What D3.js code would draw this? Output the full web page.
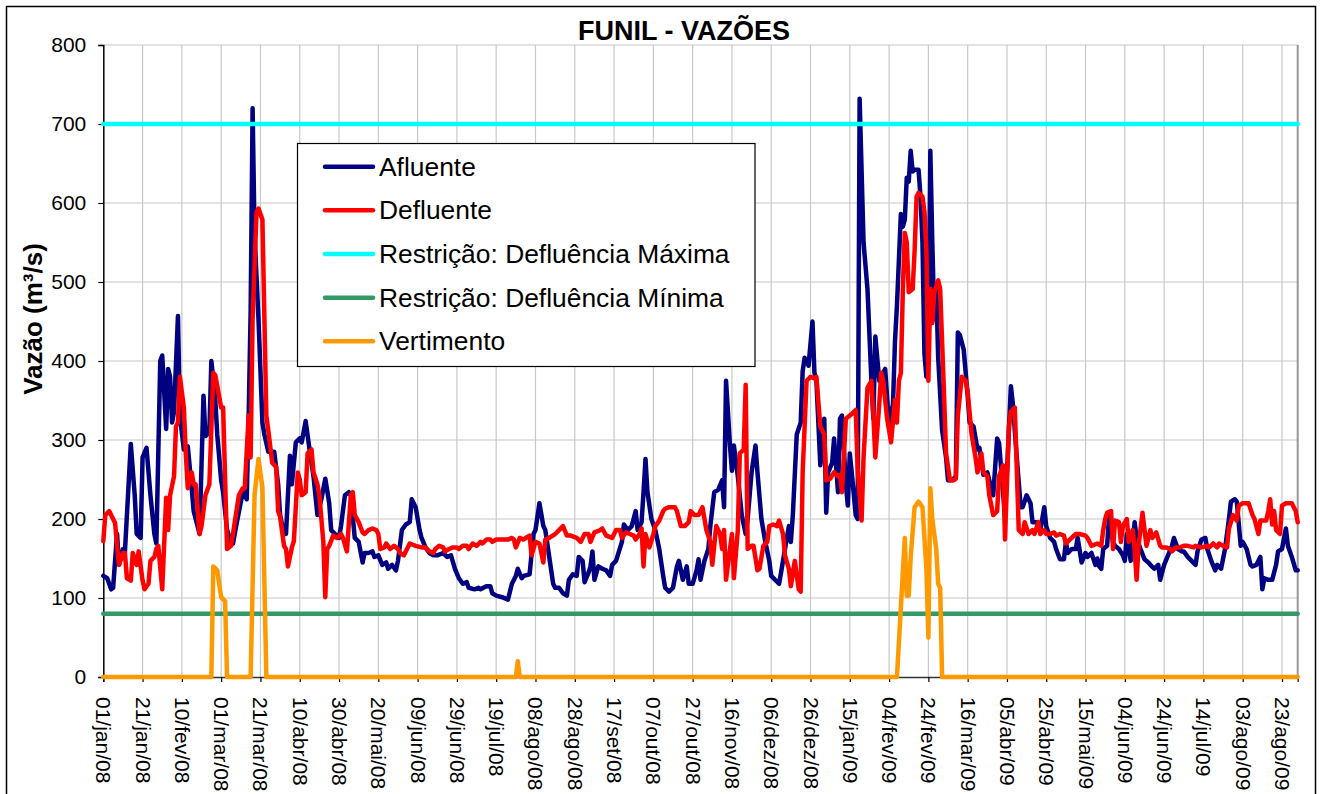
<!DOCTYPE html>
<html>
<head>
<meta charset="utf-8">
<script src="https://cdn.jsdelivr.net/npm/d3@7/dist/d3.min.js"></script>
<style>
html,body{margin:0;padding:0;background:#fff;}
svg{display:block;font-family:"Liberation Sans",Arial,sans-serif;}
</style>
</head>
<body>
<svg id="chart" width="1320" height="794"></svg>
<script>
// ---- data (day index from 01/jan/08, value m3/s) ----
const title = "FUNIL - VAZÕES";
const yLabel = "Vazão (m³/s)";
const nDays = 609; // 01/jan/08 .. 31/ago/09
const tickLabels = ["01/jan/08","21/jan/08","10/fev/08","01/mar/08","21/mar/08","10/abr/08","30/abr/08","20/mai/08","09/jun/08","29/jun/08","19/jul/08","08/ago/08","28/ago/08","17/set/08","07/out/08","27/out/08","16/nov/08","06/dez/08","26/dez/08","15/jan/09","04/fev/09","24/fev/09","16/mar/09","05/abr/09","25/abr/09","15/mai/09","04/jun/09","24/jun/09","14/jul/09","03/ago/09","23/ago/09"];
const tickStep = 20;
const yTicks = [0,100,200,300,400,500,600,700,800];
const seriesNames = ["Afluente","Defluente","Restrição: Defluência Máxima","Restrição: Defluência Mínima","Vertimento"];

const afluente = [[0,128],[2,125],[4,111],[5,113],[7,181],[8,142],[10,162],[11,158],[14,295],[16,230],[17,181],[19,176],[20,278],[22,290],[24,230],[26,181],[27,169],[29,400],[30,407],[32,314],[33,390],[34,380],[35,322],[36,336],[38,457],[39,331],[41,288],[43,292],[45,239],[46,210],[48,191],[49,181],[51,356],[52,305],[54,310],[55,400],[57,351],[58,307],[60,249],[61,234],[63,186],[65,171],[66,169],[68,196],[71,234],[73,225],[74,331],[75,462],[76,720],[77,560],[79,453],[81,322],[82,307],[84,285],[87,285],[89,244],[90,205],[92,181],[93,181],[95,280],[96,244],[98,297],[100,302],[101,297],[103,324],[105,288],[107,254],[109,205],[111,225],[113,251],[115,220],[116,186],[118,181],[120,176],[121,191],[123,230],[125,234],[126,230],[128,176],[130,171],[132,145],[133,157],[135,157],[137,159],[138,152],[140,154],[142,142],[144,145],[145,137],[147,142],[149,135],[150,147],[152,186],[154,193],[156,196],[157,225],[159,215],[161,186],[162,176],[164,164],[166,157],[168,154],[170,154],[173,157],[175,152],[177,154],[179,137],[181,125],[183,118],[185,120],[186,113],[189,111],[191,113],[192,111],[195,115],[197,115],[198,106],[200,103],[203,101],[206,98],[208,118],[210,128],[211,137],[213,125],[214,128],[217,130],[219,181],[220,186],[222,220],[224,191],[225,186],[227,152],[229,118],[230,113],[232,113],[234,106],[236,103],[237,123],[239,130],[241,128],[242,152],[244,147],[245,120],[247,132],[248,140],[249,159],[250,123],[252,140],[254,137],[256,135],[258,128],[259,142],[261,147],[264,171],[265,193],[267,186],[269,191],[271,210],[272,186],[274,196],[275,234],[276,276],[277,234],[279,200],[281,186],[283,162],[285,128],[286,113],[288,108],[290,113],[292,140],[293,147],[295,123],[297,140],[298,118],[300,118],[302,135],[303,149],[304,123],[306,147],[308,162],[309,191],[311,234],[313,237],[315,249],[316,215],[317,375],[319,293],[320,261],[321,293],[323,254],[325,205],[327,181],[328,200],[330,259],[332,293],[333,259],[335,200],[337,171],[339,147],[340,128],[342,123],[344,118],[345,132],[347,162],[349,191],[350,171],[351,205],[353,307],[355,322],[356,387],[357,404],[359,394],[361,450],[362,385],[363,375],[365,268],[367,327],[368,208],[369,259],[371,271],[372,302],[374,234],[375,327],[376,331],[378,244],[379,217],[380,283],[381,259],[383,205],[384,200],[385,732],[387,550],[389,491],[391,375],[392,327],[393,431],[395,375],[397,385],[398,390],[400,317],[402,346],[403,425],[404,470],[406,586],[407,570],[408,579],[409,632],[410,627],[411,666],[412,640],[413,642],[415,642],[416,608],[417,550],[418,409],[419,380],[420,409],[421,666],[422,550],[423,453],[424,491],[425,404],[427,312],[429,278],[430,249],[432,249],[434,254],[435,436],[436,433],[438,414],[440,356],[441,322],[443,317],[445,288],[446,290],[448,256],[450,259],[451,249],[453,230],[455,302],[456,296],[458,234],[459,205],[460,259],[462,368],[463,346],[465,278],[467,215],[468,215],[470,230],[472,220],[473,196],[475,196],[477,186],[479,215],[480,191],[482,176],[484,171],[485,162],[487,149],[489,149],[490,171],[491,157],[493,162],[495,162],[496,176],[498,145],[500,157],[501,152],[503,157],[505,142],[506,150],[507,140],[508,137],[509,162],[511,166],[512,205],[514,171],[515,166],[517,162],[519,154],[520,147],[521,181],[522,162],[523,147],[525,196],[526,176],[528,162],[530,149],[532,145],[533,142],[535,137],[537,142],[538,123],[540,142],[542,154],[544,166],[545,176],[547,162],[549,159],[550,159],[552,152],[554,147],[556,142],[557,159],[559,174],[561,176],[562,162],[564,147],[566,135],[567,142],[569,137],[571,162],[573,200],[574,222],[576,225],[577,222],[579,166],[580,171],[582,162],[584,142],[585,140],[587,142],[589,152],[590,111],[591,125],[593,123],[595,123],[597,142],[598,159],[600,162],[602,188],[603,166],[605,152],[607,135],[608,135]];

const defluente = [[0,172],[1,205],[3,210],[5,200],[6,195],[7,166],[8,142],[10,157],[11,157],[12,125],[14,122],[15,157],[17,142],[18,159],[20,122],[21,111],[23,118],[24,147],[26,152],[27,162],[28,166],[30,111],[32,227],[33,186],[34,230],[36,254],[37,317],[38,322],[39,380],[41,341],[42,283],[43,239],[45,259],[46,244],[47,244],[49,181],[50,191],[52,230],[54,244],[56,385],[57,382],[60,341],[61,341],[63,162],[65,166],[66,181],[69,230],[71,239],[72,239],[74,331],[75,278],[76,453],[78,588],[79,593],[81,579],[83,331],[84,312],[86,271],[88,266],[89,210],[90,203],[92,166],[93,162],[94,140],[96,164],[97,172],[99,259],[100,250],[101,230],[103,234],[104,283],[106,288],[107,259],[109,244],[110,230],[112,171],[113,101],[114,162],[115,166],[117,179],[119,176],[121,181],[122,176],[124,159],[126,230],[127,234],[128,205],[130,196],[132,183],[133,181],[135,186],[137,188],[139,186],[140,181],[141,162],[143,164],[144,169],[146,162],[148,166],[150,162],[151,157],[153,154],[155,164],[156,169],[159,166],[162,164],[164,164],[166,159],[168,157],[169,162],[171,166],[173,164],[174,159],[176,162],[178,164],[180,164],[181,162],[183,166],[185,166],[186,162],[188,169],[190,166],[192,171],[193,169],[195,174],[197,174],[198,171],[200,174],[203,174],[206,174],[208,176],[209,174],[210,164],[212,176],[214,174],[215,176],[217,179],[218,154],[220,171],[222,169],[224,145],[225,174],[227,176],[230,181],[232,186],[234,191],[236,179],[238,179],[241,176],[243,171],[245,181],[247,181],[248,171],[250,183],[253,186],[254,188],[256,179],[259,176],[261,186],[263,186],[264,176],[266,183],[268,181],[270,179],[271,174],[273,181],[274,188],[275,140],[276,181],[278,164],[280,181],[281,191],[283,198],[285,210],[286,213],[288,215],[291,215],[292,210],[294,191],[296,191],[298,196],[299,210],[301,205],[303,205],[304,210],[305,215],[307,186],[309,171],[310,142],[312,191],[314,181],[315,162],[316,186],[317,123],[319,162],[320,181],[321,125],[323,186],[324,283],[326,288],[327,370],[328,162],[330,166],[331,166],[333,135],[334,137],[336,166],[338,171],[339,191],[341,193],[343,191],[344,198],[346,181],[347,154],[349,137],[350,115],[352,147],[354,111],[355,108],[356,259],[358,375],[360,380],[362,378],[363,380],[365,317],[367,307],[368,249],[370,251],[372,259],[374,254],[375,256],[376,234],[378,327],[380,331],[381,333],[383,338],[384,264],[386,198],[387,278],[389,366],[391,375],[392,331],[393,278],[395,346],[396,385],[397,375],[399,327],[401,297],[403,351],[404,322],[405,375],[406,385],[407,491],[408,562],[409,550],[410,487],[412,491],[413,540],[414,608],[415,613],[417,608],[418,589],[419,540],[420,375],[421,491],[422,448],[423,487],[425,502],[426,491],[428,356],[429,283],[431,249],[433,249],[434,251],[435,331],[437,380],[439,375],[440,361],[442,307],[444,278],[445,259],[447,283],[448,259],[450,254],[451,230],[453,205],[455,210],[456,254],[458,268],[459,174],[461,317],[462,336],[464,341],[466,186],[468,181],[469,196],[471,181],[473,186],[474,181],[476,196],[477,181],[479,186],[480,181],[482,181],[484,183],[485,179],[487,181],[489,179],[490,169],[492,174],[495,181],[497,181],[500,179],[501,176],[503,166],[506,169],[508,166],[509,186],[510,200],[511,208],[513,210],[514,162],[515,198],[517,196],[518,171],[519,191],[521,200],[522,171],[524,186],[525,162],[526,123],[527,166],[529,208],[531,166],[533,186],[534,176],[536,183],[538,166],[539,164],[541,164],[543,162],[544,159],[546,164],[548,164],[550,166],[552,166],[555,164],[556,166],[559,164],[562,166],[563,164],[565,169],[567,164],[568,169],[570,166],[572,164],[573,188],[574,196],[575,205],[577,198],[578,217],[580,220],[581,220],[583,220],[585,205],[586,200],[588,181],[589,198],[591,198],[592,198],[593,210],[594,225],[595,193],[596,210],[597,186],[599,181],[600,217],[602,220],[603,220],[605,220],[607,210],[608,196]];

const restricaoMax = [[0,700],[608,700]];
const restricaoMin = [[0,80],[608,80]];

const vertimento = [[0,0],[55,0],[56,140],[58,135],[60,101],[62,96],[63,0],[75,0],[77,230],[79,276],[81,240],[83,0],[210,0],[211,20],[212,0],[404,0],[408,176],[409,103],[410,103],[411,152],[413,215],[415,222],[417,215],[419,137],[420,50],[421,239],[422,200],[424,162],[425,118],[426,113],[427,0],[608,0]];

const colors = ["#000080","#FF0000","#00FFFF","#339966","#FF9900"];

// ---- layout ----
const svg = d3.select("#chart");
const x0 = 103.3, x1 = 1297.7, yTop = 45, yBot = 677;
const x = d3.scaleLinear().domain([0, nDays - 1]).range([x0, x1]);
const y = d3.scaleLinear().domain([0, 800]).range([yBot, yTop]);

// chart border
svg.append("rect").attr("x",6.5).attr("y",6.5).attr("width",1309).attr("height",800)
  .attr("fill","#fff").attr("stroke","#000").attr("stroke-width",1.5);

// grid
const tickDays = tickLabels.map((d,i)=>i*tickStep);
svg.append("g").selectAll("line").data(yTicks.filter(v=>v>0)).join("line")
  .attr("x1",x0).attr("x2",x1).attr("y1",d=>y(d)).attr("y2",d=>y(d))
  .attr("stroke","#c8c8c8").attr("stroke-width",1.2);
svg.append("g").selectAll("line").data(tickDays.filter(d=>d>0)).join("line")
  .attr("x1",d=>x(d)).attr("x2",d=>x(d)).attr("y1",yTop).attr("y2",yBot)
  .attr("stroke","#c8c8c8").attr("stroke-width",1.2);
svg.append("line").attr("x1",x1).attr("x2",x1).attr("y1",yTop).attr("y2",yBot)
  .attr("stroke","#999").attr("stroke-width",2);

// y axis
const yAxis = d3.axisLeft(y).tickValues(yTicks).tickSize(5).tickPadding(12).tickFormat(d3.format("d"));
const gy = svg.append("g").attr("transform",`translate(${x0},0)`).call(yAxis);
gy.select(".domain").attr("stroke","#000").attr("stroke-width",1.5);
gy.selectAll(".tick line").attr("stroke","#000").attr("stroke-width",1.2);
gy.selectAll(".tick text").attr("font-size",21).attr("font-family","Liberation Sans, Arial, sans-serif").attr("fill","#000");

// x axis
const xAxis = d3.axisBottom(x).tickValues(tickDays).tickSize(5).tickFormat((d,i)=>tickLabels[i]);
const gx = svg.append("g").attr("transform",`translate(0,${yBot})`).call(xAxis);
gx.select(".domain").attr("stroke","#333").attr("stroke-width",1.5);
gx.selectAll(".tick line").attr("stroke","#000").attr("stroke-width",1.2);
gx.selectAll(".tick text")
  .attr("font-size",21).attr("font-family","Liberation Sans, Arial, sans-serif").attr("fill","#000")
  .attr("text-anchor","start").attr("dy",null).attr("y",null)
  .attr("dominant-baseline","central")
  .attr("transform","translate(0,20) rotate(90)");

// lines
const line = d3.line().x(d=>x(d[0])).y(d=>y(d[1])).curve(d3.curveLinear);
const allSeries = [afluente, defluente, restricaoMax, restricaoMin, vertimento];
svg.append("g").selectAll("path").data(allSeries).join("path")
  .attr("d",line).attr("fill","none")
  .attr("stroke",(d,i)=>colors[i]).attr("stroke-width",4.5)
  .attr("stroke-linejoin","round").attr("stroke-linecap","round");

// title
svg.append("text").attr("x",684).attr("y",31).attr("text-anchor","middle")
  .attr("dominant-baseline","central").attr("font-weight","bold").attr("font-size",27)
  .text(title);

// y label
svg.append("text").attr("transform","translate(33,319) rotate(-90)").attr("text-anchor","middle")
  .attr("dominant-baseline","central").attr("font-weight","bold").attr("font-size",26)
  .text(yLabel);

// legend
const lg = svg.append("g");
lg.append("rect").attr("x",297.5).attr("y",143.5).attr("width",457.5).attr("height",223)
  .attr("fill","#fff").attr("stroke","#000").attr("stroke-width",1.2);
const rowY = d3.scalePoint().domain(seriesNames).range([166.7,341.3]);
const items = lg.selectAll("g.item").data(seriesNames).join("g").attr("class","item")
  .attr("transform",d=>`translate(0,${rowY(d)})`);
items.append("line").attr("x1",325).attr("x2",373).attr("y1",0).attr("y2",0)
  .attr("stroke",(d,i)=>colors[i]).attr("stroke-width",4.5).attr("stroke-linecap","round");
items.append("text").attr("x",379).attr("y",0).attr("dominant-baseline","central")
  .attr("font-size",26.4).text(d=>d);
</script>
</body>
</html>
